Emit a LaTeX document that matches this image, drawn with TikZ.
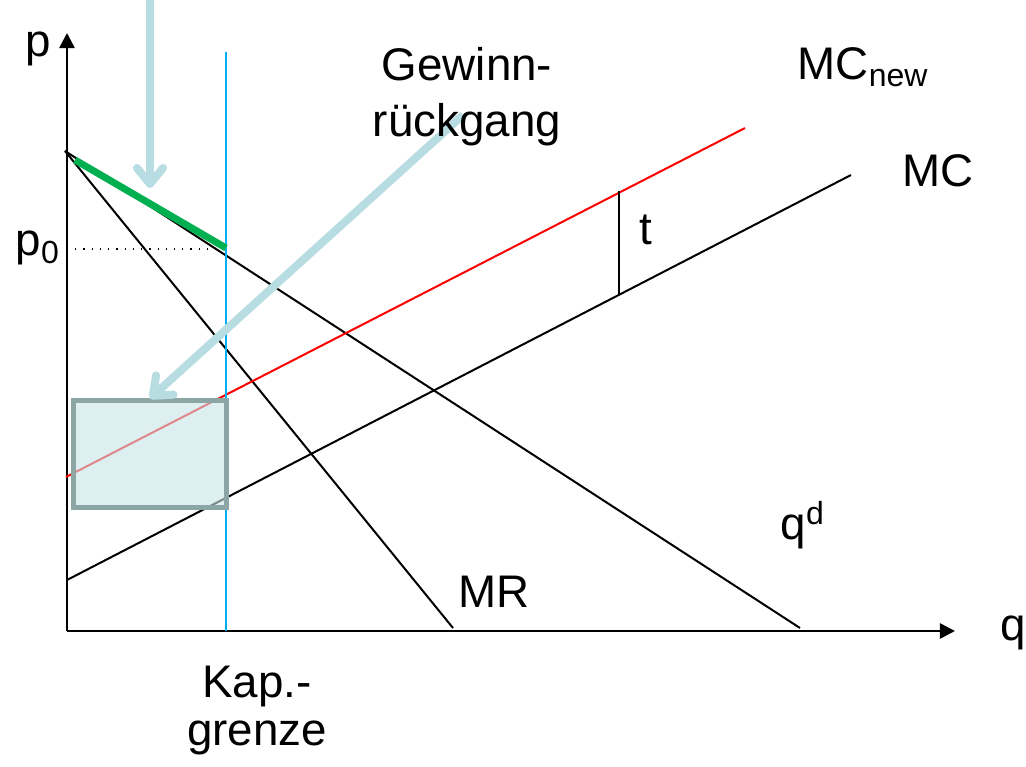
\documentclass[tikz,border=0pt]{standalone}
\usepackage{fontspec}
\setmainfont{Liberation Sans}
\usetikzlibrary{arrows.meta}
\usetikzlibrary{positioning}
\definecolor{capblue}{RGB}{0,176,240}
\definecolor{hintblue}{RGB}{183,221,226}
\definecolor{boxgray}{RGB}{140,165,165}
\definecolor{boxfill}{RGB}{200,228,232}
\definecolor{lossgreen}{RGB}{0,176,80}
\tikzset{
axis_line/.style={line width=0.025cm, -{Triangle[length=0.15cm,width=0.15cm]}},
curve/.style={line width=0.02cm},
label_text/.style={inner sep=0, font=\fontsize{13}{16}\selectfont},
hint_arrow/.style={line width=0.08cm, color=hintblue, -{Straight Barb[round,length=0.16cm,width=0.26cm]}},
loss_box/.style={rectangle, draw=boxgray, line width=0.05cm, fill=boxfill, fill opacity=0.6, inner sep=0, minimum width=1.52cm, minimum height=1.06cm}
}

\begin{document}
\begin{tikzpicture}[x=0.01cm, y=-0.01cm]
    \useasboundingbox (0,0) rectangle (1026,767);
    % axes
    \coordinate (origin) at (67,631);
    \coordinate (p_tip) at (67,33);
    \coordinate (q_tip) at (955,631);
    \draw[axis_line] (origin) -- (p_tip);
    \draw[axis_line] (origin) -- (q_tip);
    \node[label_text, anchor=base west] (p_label) at (25,57) {p};
    \node[label_text, anchor=base west] (q_label) at (1000,641) {q};
    % demand and marginal revenue
    \coordinate (dem_top) at (65,151);
    \coordinate (dem_end) at (800,628);
    \coordinate (mr_end) at (453,628);
    \draw[curve] (dem_top) -- (dem_end);
    \draw[curve] (dem_top) -- (mr_end);
    \node[label_text, anchor=base west] (qd_label) at (780,540) {q\textsuperscript{d}};
    \node[label_text, anchor=base west] (mr_label) at (458,608) {MR};
    % marginal cost, old and new
    \coordinate (mc_start) at (67,580);
    \coordinate (mc_end) at (851,175);
    \coordinate (mcn_start) at (66,477);
    \coordinate (mcn_end) at (745,128);
    \draw[curve] (mc_start) -- (mc_end);
    \draw[curve, red] (mcn_start) -- (mcn_end);
    \node[label_text, anchor=base west] (mc_label) at (902,187) {MC};
    \node[label_text, anchor=base west] (mcn_label) at (797,80) {MC\textsubscript{new}};
    \coordinate (t_top) at (619,191);
    \coordinate (t_bottom) at (619,295);
    \draw[curve] (t_top) -- (t_bottom);
    \node[label_text, anchor=base west] (t_label) at (639,245) {t};
    % capacity limit
    \coordinate (cap_top) at (226,52);
    \coordinate (cap_bottom) at (226,631);
    \draw[line width=0.02cm, capblue] (cap_top) -- (cap_bottom);
    \node[label_text, align=center, below=0.34cm of cap_bottom, xshift=0.31cm, font=\fontsize{13}{13.8}\selectfont] (cap_label) {Kap.-\\grenze};
    % price at the limit
    \coordinate (p0_end) at (226,249);
    \draw[line width=0.012cm, dotted] (p0_end -| origin) -- (p0_end);
    \node[label_text, anchor=base west] (p0_label) at (15,256) {p\textsubscript{0}};
    \coordinate (green_start) at (75,160);
    \coordinate (green_end) at (226,248);
    \draw[line width=0.07cm, lossgreen] (green_start) -- (green_end);
    % profit loss
    \node[loss_box] (loss) at (150,454) {};
    \coordinate (hint_top) at (150,0);
    \coordinate (hint_tip) at (150,188);
    \coordinate (loss_start) at (463,115);
    \draw[hint_arrow] (hint_top) -- (hint_tip);
    \draw[hint_arrow] (loss_start) -- (loss.north);
    \node[label_text, align=center, anchor=base] (loss_label) at (467,137) {Gewinn-\\rückgang};
\end{tikzpicture}
\end{document}
